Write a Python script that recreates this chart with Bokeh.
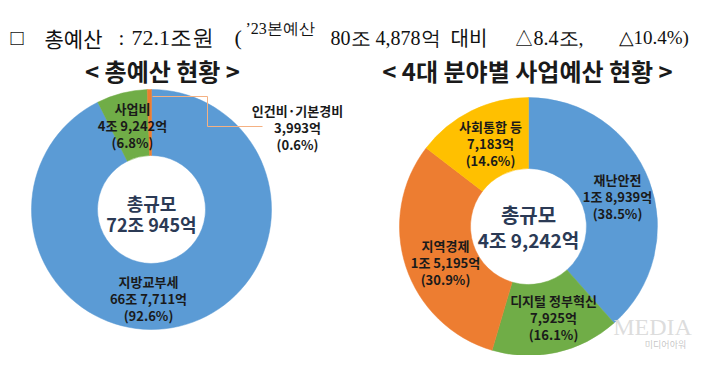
import math
from bokeh.plotting import figure
from bokeh.models import Range1d, ColumnDataSource
from bokeh.core.properties import value
from bokeh.embed import file_html
from bokeh.resources import INLINE

# ---- data ----
total_names = ["지방교부세", "사업비", "인건비·기본경비"]
total_values = [667711, 49242, 3993]          # 억원
total_amount_labels = ["66조 7,711억", "4조 9,242억", "3,993억"]
total_pct = ["(92.6%)", "(6.8%)", "(0.6%)"]
total_colors = ["#5B9BD5", "#70AD47", "#ED7D31"]

field_names = ["재난안전", "디지털 정부혁신", "지역경제", "사회통합 등"]
field_values = [18939, 7925, 15195, 7183]      # 억원
field_amount_labels = ["1조 8,939억", "7,925억", "1조 5,195억", "7,183억"]
field_pct = ["(38.5%)", "(16.1%)", "(30.9%)", "(14.6%)"]
field_colors = ["#5B9BD5", "#70AD47", "#ED7D31", "#FFC000"]

H = 371
KR = "Noto Sans CJK KR"
SERIF = "Liberation Serif"

p = figure(width=695, height=355, output_backend="svg", toolbar_location=None,
           x_range=Range1d(0, 695), y_range=Range1d(16, 371),
           min_border=0, tools="")
p.axis.visible = False
p.grid.visible = False
p.outline_line_color = None
p.background_fill_color = "white"


def Y(y):
    return H - y


def donut(cx, cy, r_in, r_out, vals, colors):
    tot = float(sum(vals))
    cum = 0.0
    starts, ends = [], []
    for v in vals:
        a0 = cum / tot
        cum += v
        a1 = cum / tot
        starts.append(math.pi / 2 - 2 * math.pi * a1)
        ends.append(math.pi / 2 - 2 * math.pi * a0)
    src = ColumnDataSource(dict(x=[cx] * len(vals), y=[Y(cy)] * len(vals),
                                s=starts, e=ends, c=colors))
    p.annular_wedge(x="x", y="y", inner_radius=r_in, outer_radius=r_out,
                    start_angle="s", end_angle="e", fill_color="c",
                    line_color="c", line_width=0.5, source=src)


donut(151, 209, 54, 120, total_values, total_colors)
donut(528, 226, 58, 129, field_values, field_colors)


def txt(x, y, s, size, color="#1a1a1a", bold=True, font=KR, align="center",
        baseline="middle", alpha=1.0):
    p.text(x=[x], y=[Y(y)], text=[s], text_font=value(font),
           text_font_size=f"{size}px", text_color=color,
           text_font_style="bold" if bold else "normal",
           text_align=align, text_baseline=baseline, text_alpha=alpha)


def label3(x, y, lines, size=13, gap=17):
    for i, s in enumerate(lines):
        txt(x, y + i * gap, s, size)


# ---- header ----
HB = 37
HC = "#111111"
def head(x, s, font=SERIF, size=21, y=HB):
    txt(x, y, s, size, color=HC, bold=False, font=font, align="left", baseline="alphabetic")

head(10, "□", size=22)
head(44, "총예산", font=KR)
head(118, ":")
head(131, "72.1조원", size=22)
head(234, "(", size=22)
head(245, "’23본예산", size=16, y=28)
head(330, "80조 4,878억", size=20)
head(450, "대비", font=KR, size=20)
head(513, "△8.4조,", size=20)
head(618, "△10.4%)", size=19)

# ---- titles ----
txt(162, 70, "< 총예산 현황 >", 24)
txt(527, 70, "< 4대 분야별 사업예산 현황 >", 24)

# ---- left donut labels ----
label3(132, 108, [total_names[1], total_amount_labels[1], total_pct[1]])
label3(148, 281, [total_names[0], total_amount_labels[0], total_pct[0]])
label3(297, 110, [total_names[2], total_amount_labels[2], total_pct[2]])
p.line(x=[152, 207, 207, 262], y=[Y(96), Y(96), Y(126), Y(126)],
       line_color="#F4B183", line_width=1)

txt(151, 202, "총규모", 18, color="#2B3A55")
txt(151, 223, "72조 945억", 18, color="#2B3A55")

# ---- right donut labels ----
label3(617, 179, [field_names[0], field_amount_labels[0], field_pct[0]])
label3(553, 300, [field_names[1], field_amount_labels[1], field_pct[1]])
label3(445, 245, [field_names[2], field_amount_labels[2], field_pct[2]])
label3(490, 126, [field_names[3], field_amount_labels[3], field_pct[3]])

txt(528, 214, "총규모", 20, color="#2B3A55")
txt(528, 239, "4조 9,242억", 19, color="#2B3A55")

# ---- watermark ----
txt(652, 326, "MEDIA", 24, color="#d9d9d9", bold=False, font=SERIF, alpha=0.9)
txt(665, 344, "미디어아워", 9, color="#bfbfbf", bold=False, alpha=0.9)

open("out.html", "w").write(file_html(p, INLINE))
